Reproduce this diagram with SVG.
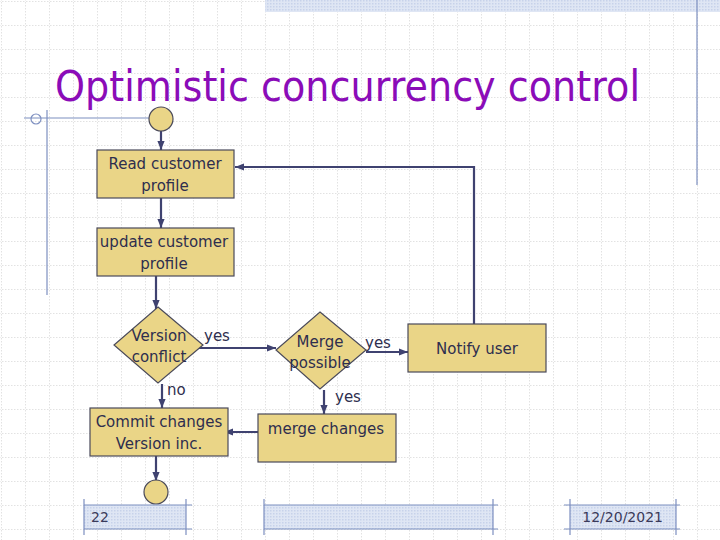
<svg xmlns="http://www.w3.org/2000/svg" width="720" height="540" viewBox="0 0 720 540">
<defs>
<pattern id="grid" width="24" height="24" patternUnits="userSpaceOnUse" x="2" y="2">
<path d="M24 0V24M0 24H24" fill="none" stroke="#c4c4c4" stroke-width="1" stroke-dasharray="1.5 1.5"/>
</pattern>
<pattern id="hatch" width="3" height="3" patternUnits="userSpaceOnUse">
<rect width="3" height="3" fill="#dfe6f4"/><rect width="1.5" height="1.5" fill="#c7d2ea"/>
</pattern>
<marker id="ah" viewBox="0 0 10 10" refX="10" refY="5" markerWidth="9" markerHeight="9" orient="auto" markerUnits="userSpaceOnUse"><path d="M0 1L10 5L0 9z" fill="#3f4270"/></marker>
</defs>
<style>
.box{fill:#ead587;stroke:#4a4a5a;stroke-width:1.2}
.t{font-family:"DejaVu Sans",sans-serif;font-size:15px;fill:#2e2e4e;text-anchor:middle}
.l{font-family:"DejaVu Sans",sans-serif;font-size:15px;fill:#2e2e4e}
.c{fill:none;stroke:#3f4270;stroke-width:2.2}
.deco{stroke:#7d8fc0;stroke-width:1.2;fill:none}
.ft{font-family:"DejaVu Sans",sans-serif;font-size:14px;fill:#3a3a5a}
</style>
<rect width="720" height="540" fill="#fff"/>
<rect width="720" height="540" fill="url(#grid)"/>
<rect x="265" y="0" width="455" height="12" fill="url(#hatch)"/>
<line class="deco" x1="697" y1="0" x2="697" y2="185"/>
<line class="deco" x1="24" y1="118" x2="150" y2="118"/>
<line class="deco" x1="47" y1="110" x2="47" y2="295"/>
<circle class="deco" cx="36" cy="119" r="5"/>
<text x="55" y="101" font-family="DejaVu Sans,sans-serif" font-size="43" fill="#8b0cb8" textLength="585" lengthAdjust="spacingAndGlyphs">Optimistic concurrency control</text>
<g id="connectors">
<line class="c" x1="161" y1="131" x2="161" y2="150" marker-end="url(#ah)"/>
<line class="c" x1="161" y1="198" x2="161" y2="228" marker-end="url(#ah)"/>
<line class="c" x1="156" y1="276" x2="156" y2="309" marker-end="url(#ah)"/>
<line class="c" x1="199" y1="348" x2="276" y2="348" marker-end="url(#ah)"/>
<line class="c" x1="366" y1="352" x2="408" y2="352" marker-end="url(#ah)"/>
<polyline class="c" points="474,324 474,167 235,167" marker-end="url(#ah)"/>
<line class="c" x1="162" y1="384" x2="162" y2="408" marker-end="url(#ah)"/>
<line class="c" x1="324" y1="390" x2="324" y2="414" marker-end="url(#ah)"/>
<line class="c" x1="258" y1="432" x2="224" y2="432" marker-end="url(#ah)"/>
<line class="c" x1="156" y1="456" x2="156" y2="481" marker-end="url(#ah)"/>
<text class="l" x="204" y="341">yes</text>
<text class="l" x="365" y="348">yes</text>
<text class="l" x="167" y="395">no</text>
<text class="l" x="335" y="402">yes</text>
</g>
<g id="start"><circle class="box" cx="161" cy="119" r="12"/></g>
<g id="read"><rect class="box" x="97" y="150" width="137" height="48"/><text class="t" x="165" y="169">Read customer</text><text class="t" x="165" y="191">profile</text></g>
<g id="update"><rect class="box" x="97" y="228" width="137" height="48"/><text class="t" x="164" y="247">update customer</text><text class="t" x="164" y="269">profile</text></g>
<g id="version"><polygon class="box" points="158,307 203,345 158,383 114,345"/><text class="t" x="159" y="341">Version</text><text class="t" x="159" y="362">conflict</text></g>
<g id="merge"><polygon class="box" points="320,312 366,350 320,389 276,350"/><text class="t" x="320" y="347">Merge</text><text class="t" x="320" y="368">possible</text></g>
<g id="notify"><rect class="box" x="408" y="324" width="138" height="48"/><text class="t" x="477" y="354">Notify user</text></g>
<g id="commit"><rect class="box" x="90" y="408" width="138" height="48"/><text class="t" x="159" y="427">Commit changes</text><text class="t" x="159" y="449">Version inc.</text></g>
<g id="mergechanges"><rect class="box" x="258" y="414" width="138" height="48"/><text class="t" x="326" y="434">merge changes</text></g>
<g id="end"><circle class="box" cx="156" cy="492" r="12"/></g>
<g id="footer">
<rect x="84" y="505" width="102" height="24" fill="url(#hatch)"/>
<path class="deco" d="M84 499V535M186 499V535M84 505H192M84 529H192"/>
<text class="ft" x="91" y="522">22</text>
<rect x="264" y="505" width="229" height="24" fill="url(#hatch)"/>
<path class="deco" d="M264 499V535M493 499V535M264 505H498M264 529H498"/>
<rect x="570" y="505" width="106" height="24" fill="url(#hatch)"/>
<path class="deco" d="M570 499V535M676 499V535M564 505H680M564 529H680"/>
<text class="ft" x="663" y="522" text-anchor="end">12/20/2021</text>
</g>
</svg>
